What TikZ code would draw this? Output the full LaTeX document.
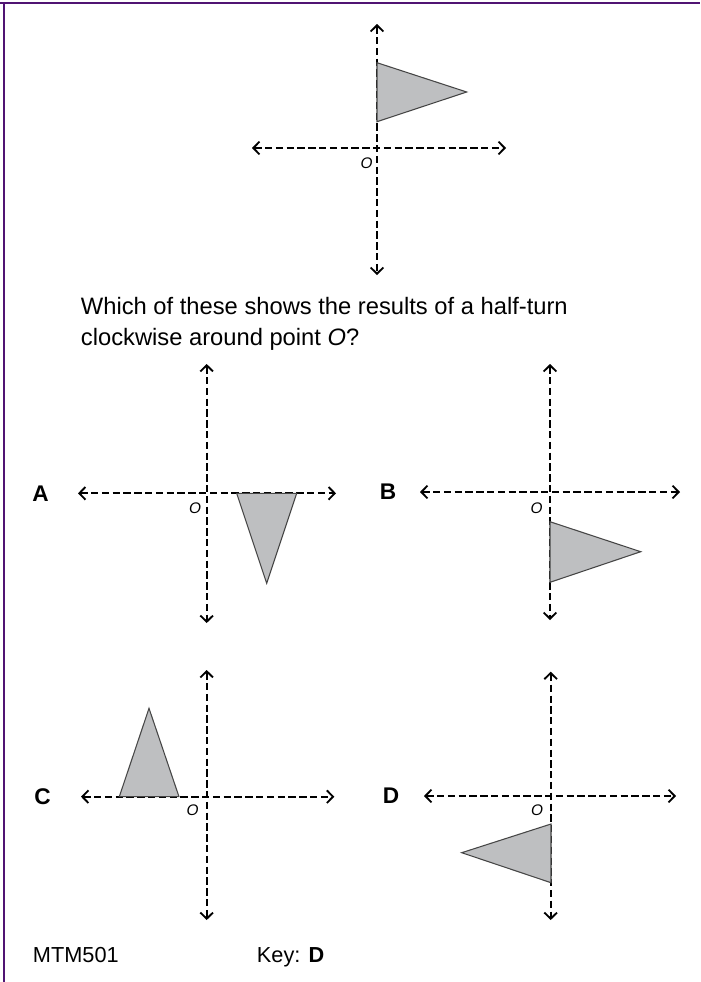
\documentclass[tikz,border=0pt]{standalone}
\usepackage{fontspec}
\setmainfont{Liberation Sans}
\usetikzlibrary{arrows.meta}
\definecolor{framecol}{RGB}{80,20,115}
\definecolor{trifill}{RGB}{190,191,193}
\definecolor{triedge}{RGB}{70,70,70}
\tikzset{
  axtip/.tip={Straight Barb[length=4.6pt,width=9.5pt,line width=1.4pt]},
  axisline/.style={line width=1.4pt, dash pattern=on 5.5pt off 2.6pt, axtip-axtip},
  trishape/.style={fill=trifill, draw=triedge, line width=0.8pt, line join=miter},
  olabel/.style={font=\itshape\fontsize{11.5}{13}\selectfont, inner sep=0pt},
  choicelabel/.style={font=\bfseries\fontsize{17}{19}\selectfont, inner sep=0pt},
  qtext/.style={font=\fontsize{17.8}{21}\selectfont, inner sep=0pt, anchor=base west},
  foot/.style={font=\fontsize{16.3}{19}\selectfont, inner sep=0pt, anchor=base west},
  borderline/.style={draw=framecol, line width=1.6pt}
}
\begin{document}
\begin{tikzpicture}[x=0.75pt,y=-0.75pt]
\useasboundingbox (0,0) rectangle (700,982);
% frame
\coordinate (fa) at (0,3);
\coordinate (fb) at (700,3);
\coordinate (fc) at (4,3);
\coordinate (fd) at (4,982);
\draw[borderline] (fa) -- (fb);
\draw[borderline] (fc) -- (fd);

% top figure
\coordinate (tl) at (252,148);
\coordinate (tr) at (506,148);
\coordinate (tt) at (377,24);
\coordinate (tb) at (377,275);
\draw[axisline] (tl) -- (tr);
\draw[axisline] (tt) -- (tb);
\draw[trishape] (377,62.7) -- (377,121.7) -- (466.7,92) -- cycle;
\node[olabel] (to) at (366.7,163) {O};

% question
\node[qtext] (q1) at (80.7,314) {Which of these shows the results of a half-turn};
\node[qtext] (q2) at (80.7,345) {clockwise around point \textit{O}?};

% panel A
\coordinate (al) at (78,493.3);
\coordinate (ar) at (336,493.3);
\coordinate (at) at (206.7,364);
\coordinate (ab) at (206.7,623);
\draw[axisline] (al) -- (ar);
\draw[axisline] (at) -- (ab);
\draw[trishape] (236.7,493.3) -- (296.7,493.3) -- (266.7,583.3) -- cycle;
\node[olabel] (ao) at (195,508) {O};
\node[choicelabel] (alab) at (40.5,493.3) {A};

% panel B
\coordinate (bl) at (420,492);
\coordinate (br) at (680,492);
\coordinate (bt) at (550,364);
\coordinate (bb) at (550,620);
\draw[axisline] (bl) -- (br);
\draw[axisline] (bt) -- (bb);
\draw[trishape] (550,521.7) -- (550,582.3) -- (640.7,551.7) -- cycle;
\node[olabel] (bo) at (536.7,508.3) {O};
\node[choicelabel] (blab) at (388,492) {B};

% panel C
\coordinate (cl) at (81,796.7);
\coordinate (cr) at (334.3,796.7);
\coordinate (ct) at (206.7,670);
\coordinate (cb) at (206.7,920);
\draw[axisline] (cl) -- (cr);
\draw[axisline] (ct) -- (cb);
\draw[trishape] (119.3,796.7) -- (179,796.7) -- (149,708.3) -- cycle;
\node[olabel] (co) at (192.7,810) {O};
\node[choicelabel] (clab) at (42.5,796.7) {C};

% panel D
\coordinate (dl) at (424,796);
\coordinate (dr) at (676,796);
\coordinate (dt) at (550.7,671.7);
\coordinate (db) at (550.7,920);
\draw[axisline] (dl) -- (dr);
\draw[axisline] (dt) -- (db);
\draw[trishape] (551,824) -- (551,882.7) -- (461.7,852.7) -- cycle;
\node[olabel] (do) at (537,810.7) {O};
\node[choicelabel] (dlab) at (391,796) {D};

% footer
\node[foot] (code) at (32.7,962) {MTM501};
\node[foot] (key) at (256.7,962) {Key: \textbf{D}};
\end{tikzpicture}
\end{document}
